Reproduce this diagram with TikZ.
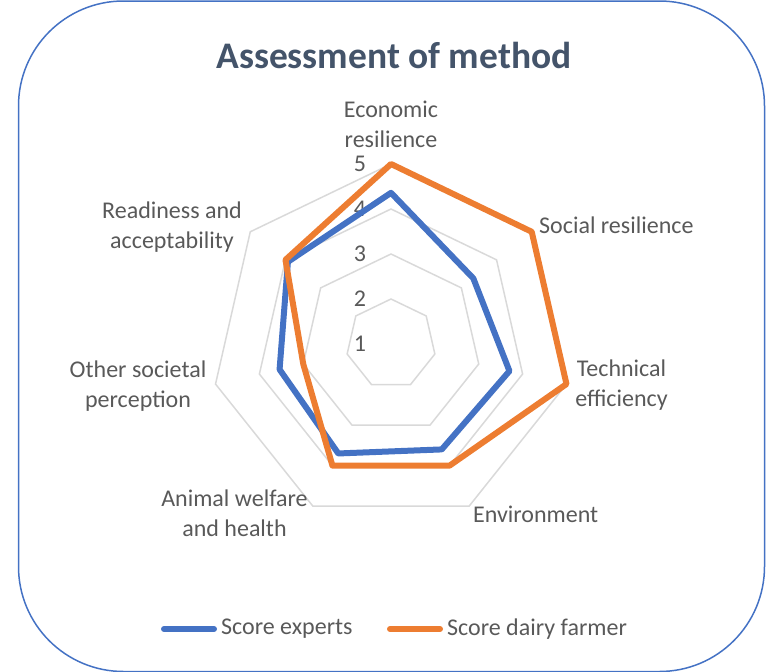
\documentclass[tikz,border=0pt]{standalone}
\usepackage{fontspec}
\setmainfont{Carlito}
\definecolor{expertblue}{HTML}{4472C4}
\definecolor{farmerorange}{HTML}{ED7D31}
\definecolor{ringgray}{HTML}{D9D9D9}
\definecolor{labelgray}{HTML}{595959}
\definecolor{titlegray}{HTML}{44546A}
\tikzset{
  ring/.style={ringgray, line width=1.5pt},
  series/.style={line width=6pt, line join=round},
  catlabel/.style={text=labelgray, font=\fontsize{24}{30}\selectfont, align=center, inner sep=0pt},
}
\begin{document}
\begin{tikzpicture}[x=1pt,y=-1pt]
\useasboundingbox (0,0) rectangle (766,672);
\draw[expertblue, line width=1.5pt, rounded corners=105pt] (18.5,1) rectangle (764.5,671.5);
\node[font=\bfseries\fontsize{37.5}{44}\selectfont, text=titlegray] (title) at (394,55) {Assessment of method};
% rings of the radar
\foreach \lev in {2,...,5}
  \draw[ring] (391,{344-45*(\lev-1)}) \foreach \k in {1,...,6}{
    -- ({391+45*(\lev-1)*sin(\k*360/7)},{344-45*(\lev-1)*cos(\k*360/7)}) } -- cycle;
\foreach \lev in {1,...,5}
  \node[catlabel] (tick\lev) at (360,{344-45*(\lev-1)}) {\lev};
% scores
\foreach \s [count=\k from 0] in {4.36,3.34,3.7,3.6,3.7,3.54,3.93}
  \coordinate (e\k) at ({391+45*(\s-1)*sin(\k*360/7)},{344-45*(\s-1)*cos(\k*360/7)});
\foreach \s [count=\k from 0] in {5,5,5,4,4,3,4}
  \coordinate (f\k) at ({391+45*(\s-1)*sin(\k*360/7)},{344-45*(\s-1)*cos(\k*360/7)});
\draw[series, expertblue] (e0) -- (e1) -- (e2) -- (e3) -- (e4) -- (e5) -- (e6) -- cycle;
\draw[series, farmerorange] (f0) -- (f1) -- (f2) -- (f3) -- (f4) -- (f5) -- (f6) -- cycle;
% category labels
\node[catlabel] (econ) at (391,124) {Economic\\resilience};
\node[catlabel, anchor=west] (social) at (539,225) {Social resilience};
\node[catlabel] (tech) at (621.5,385) {Technical\\efficiency};
\node[catlabel, anchor=west] (env) at (473,514) {Environment};
\node[catlabel] (animal) at (234.5,513) {Animal welfare\\and health};
\node[catlabel] (other) at (138,386) {Other societal\\perception};
\node[catlabel] (ready) at (172,227) {Readiness and\\acceptability};
% legend
\coordinate (le1) at (164,629);
\coordinate (le2) at (214,629);
\coordinate (lf1) at (390,629);
\coordinate (lf2) at (440,629);
\draw[series, expertblue, line cap=round] (le1) -- (le2);
\draw[series, farmerorange, line cap=round] (lf1) -- (lf2);
\node[catlabel, anchor=west] (lgexp) at (221,629) {Score experts};
\node[catlabel, anchor=west] (lgfarm) at (447,629) {Score dairy farmer};
\end{tikzpicture}
\end{document}
